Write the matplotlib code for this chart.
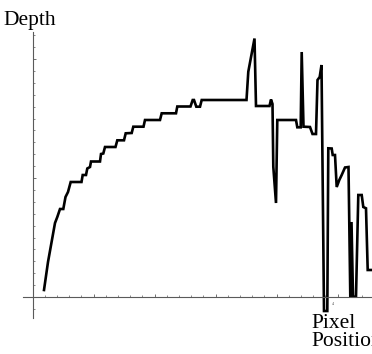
import matplotlib
matplotlib.use("Agg")
import matplotlib.pyplot as plt
import numpy as np
from matplotlib.ticker import FixedLocator

# Pixel-read trace of the depth profile (image px coordinates)
px_x = [44, 48, 55, 57.3, 60, 63.3, 65.5, 68, 70.7, 81.5, 82.7, 86, 87.3, 90, 91,
        100, 101, 103.3, 105, 115.5, 117.3, 124, 125.7, 131.7, 133.3, 143.5, 145,
        160, 161.7, 176, 177.3, 190.5, 192.7, 194, 196.3, 200, 201.7, 246.5, 248.3,
        254.5, 256, 269.5, 271, 272.5, 273.3, 276, 277.3, 296, 297.3, 300.7, 301.7,
        303.5, 310, 312.5, 316, 317.5, 319.7, 321.5, 324, 327.3, 328.3, 331.7, 332.7,
        335, 336.7, 339.3, 341.7, 345, 348.5, 350.3, 351.5, 353, 356, 358.3, 361.7,
        363.3, 366, 367.7, 372]
px_y = [290, 262, 223, 217, 209, 209, 197, 192, 182, 182, 175, 175, 168.5, 167, 161.5,
        161.5, 154, 153.5, 147, 147, 140.3, 140.3, 133.3, 133, 126.7, 126.7, 120,
        120, 113.3, 113.3, 106.5, 106.5, 100, 100, 106.7, 106.7, 100, 100, 71.7,
        38.5, 106, 106, 99.5, 104, 166.7, 203, 120, 120, 127.3, 127.3, 52,
        126.7, 127, 134, 134, 80, 77, 65, 311, 311, 148.3, 148.5, 155,
        155, 187, 180, 175, 167.5, 167, 296.7, 222, 296.7, 296.7, 195, 195,
        207, 208.3, 270, 270]

X0, Y0, SX, SY = 32.5, 297.0, 12.2, 11.9
pixel_position = [(v - X0) / SX for v in px_x]
depth = [(Y0 - v) / SY for v in px_y]

W, H = 372, 354
fig = plt.figure(figsize=(W / 100, H / 100), dpi=100)
ax = fig.add_axes([0, 0, 1, 1])
ax.set_xlim((0 - X0) / SX, (W - X0) / SX)
ax.set_ylim((Y0 - H) / SY, Y0 / SY)

ax.plot(pixel_position, depth, color="black", lw=1.9, solid_joinstyle="miter", clip_on=True)

axc = "#5a5a5a"
for s in ["top", "right"]:
    ax.spines[s].set_visible(False)
ax.spines["left"].set_position(("data", 0))
ax.spines["bottom"].set_position(("data", 0))
ax.spines["left"].set_bounds((Y0 - 318) / SY, (Y0 - 32) / SY)
ax.spines["bottom"].set_bounds((23 - X0) / SX, (W - X0) / SX)
for s in ["left", "bottom"]:
    ax.spines[s].set_color(axc)
    ax.spines[s].set_linewidth(0.8)

ax.xaxis.set_major_locator(FixedLocator([5, 10, 15, 20, 25]))
ax.xaxis.set_minor_locator(FixedLocator([v for v in range(1, 28) if v % 5]))
ax.yaxis.set_major_locator(FixedLocator([10, 20]))
ax.yaxis.set_minor_locator(FixedLocator([v for v in range(-1, 23) if v % 10]))
ax.tick_params(which="major", direction="in", length=2.5, width=0.6, color=axc,
               labelbottom=False, labelleft=False)
ax.tick_params(which="minor", direction="in", length=1.4, width=0.5, color=axc)

serif = ["Liberation Serif", "DejaVu Serif"]
ax.text(3.5 / W, 1 - 25 / H, "Depth", transform=ax.transAxes, family=serif,
        fontsize=15.5, ha="left", va="baseline")
ax.text(311.5 / W, 1 - 327.5 / H, "Pixel", transform=ax.transAxes, family=serif,
        fontsize=15.5, ha="left", va="baseline")
ax.text(311.5 / W, 1 - 346 / H, "Position", transform=ax.transAxes, family=serif,
        fontsize=15.5, ha="left", va="baseline", clip_on=False)
ax.text((333 - X0) / SX, (Y0 - 305) / SY, "4", family=serif, fontsize=3,
        ha="center", va="baseline", color="#444444")

fig.savefig("out.png", dpi=100)
